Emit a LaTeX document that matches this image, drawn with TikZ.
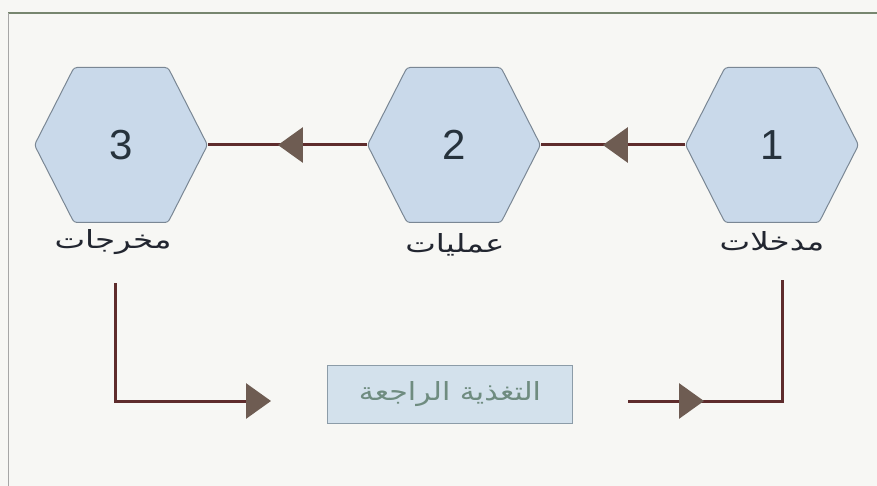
\documentclass[tikz,border=0pt]{standalone}
\usepackage{fontspec}
\setmainfont{Liberation Sans}
\newfontfamily\arabicfont[Script=Arabic,FakeStretch=1.3]{DejaVu Sans}
\newfontfamily\arabicfb[Script=Arabic,FakeStretch=1.2]{DejaVu Sans}
\TeXXeTstate=1
\usetikzlibrary{arrows.meta,decorations.markings}
\definecolor{bgc}{HTML}{F7F7F4}
\definecolor{hexfill}{HTML}{C9D9EA}
\definecolor{hexline}{HTML}{7A8794}
\definecolor{numc}{HTML}{26323C}
\definecolor{lblc}{HTML}{222630}
\definecolor{linec}{HTML}{5E2C2C}
\definecolor{arrc}{HTML}{6E5C52}
\definecolor{fbfill}{HTML}{D3E1EC}
\definecolor{fbline}{HTML}{8C9CA8}
\definecolor{fbtext}{HTML}{6F8C80}
\definecolor{framec}{HTML}{77866F}
\newcommand{\hexat}[2]{%
  \filldraw[draw=hexline, fill=hexfill, line width=1pt, rounded corners=3pt]
    (#1-86.5,#2) -- (#1-47,#2-77.5) -- (#1+47,#2-77.5) -- (#1+86.5,#2)
    -- (#1+47,#2+77.5) -- (#1-47,#2+77.5) -- cycle;}
\begin{document}
\begin{tikzpicture}[x=1pt,y=-1pt,
  hexbox/.style={rectangle, minimum width=173pt, minimum height=155pt, inner sep=0pt,
    font=\fontsize{42}{42}\selectfont, text=numc},
  lbl/.style={font=\arabicfont\fontsize{25}{28}\selectfont, text=lblc, inner sep=0pt},
  conn/.style={draw=linec, line width=3pt},
  bigtip/.style={-{Triangle[length=25pt,width=35pt,color=arrc]}},
  midarrow/.style={postaction={decorate}, decoration={markings,
    mark=at position #1 with {\arrow{Triangle[length=25pt,width=35pt,color=arrc]}}}},
]
\fill[bgc] (0,0) rectangle (877,486);
\useasboundingbox (0,0) rectangle (877,486);
% frame
\draw[framec, line width=1.5pt] (8,13) -- (877,13);
\draw[gray!70, line width=0.8pt] (8,13) -- (8,486);

% hexagons
\hexat{121}{145}
\hexat{454}{145}
\hexat{772}{145}
\node[hexbox] (h3) at (121,145) {3};
\node[hexbox] (h2) at (454,145) {2};
\node[hexbox] (h1) at (772,145) {1};

% labels
\node[lbl] (l3) at (113,242) {\beginR مخرجات\endR};
\node[lbl] (l2) at (455,245) {\beginR عمليات\endR};
\node[lbl] (l1) at (772,241) {\beginR مدخلات\endR};

% feedback box
\node[draw=fbline, fill=fbfill, line width=1pt, minimum width=245pt, minimum height=58pt,
      font=\arabicfb\fontsize{25}{28}\selectfont, text=fbtext] (fb) at (450,394)
      {\beginR التغذية الراجعة\endR};

% top connectors
\draw[conn, midarrow=0.57] (h1.west) -- (h2.east);
\draw[conn, midarrow=0.56] (h2.west) -- (h3.east);

% bottom connectors
\coordinate (bl1) at (115,283);
\coordinate (bl2) at (115,401);
\coordinate (bl3) at (271,401);
\draw[conn, bigtip] (bl1) -- (bl2) -- (bl3);

\coordinate (br1) at (628,401);
\coordinate (br2) at (782,401);
\coordinate (br3) at (782,280);
\draw[conn, midarrow=76pt] (br1) -- (br2) -- (br3);
\end{tikzpicture}
\end{document}
